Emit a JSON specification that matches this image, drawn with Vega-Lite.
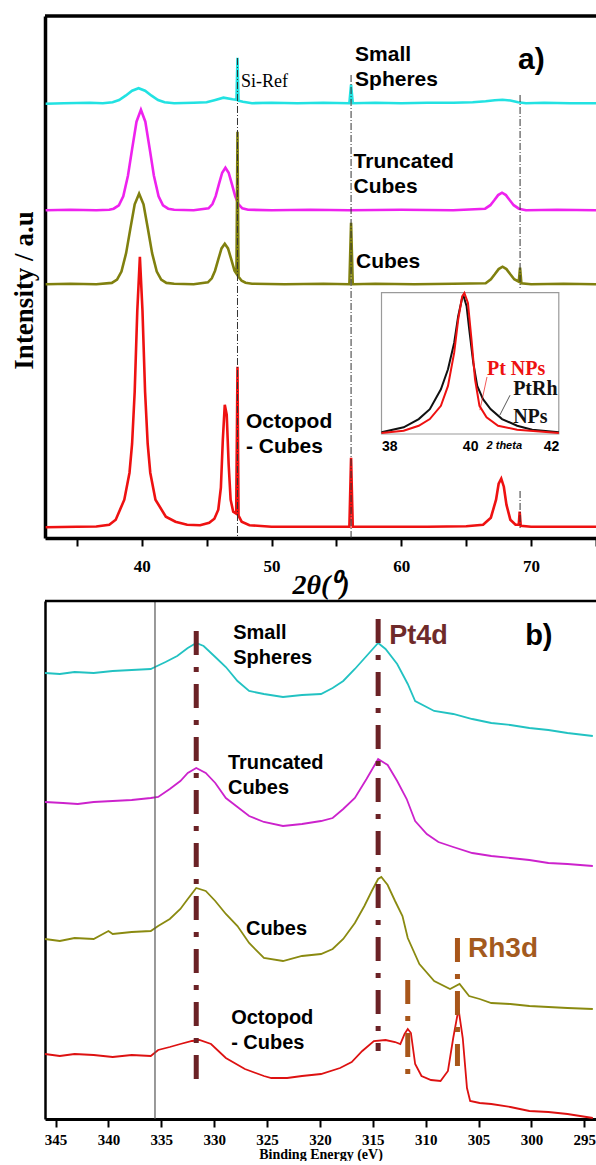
{
"$schema": "https://vega.github.io/schema/vega-lite/v6.json",
"padding": {"left": 10, "top": 14, "right": 0, "bottom": 0},
"spacing": 0,
"config": {"view": {"stroke": null}, "axis": {"grid": false}},
"resolve": {"scale": {"color": "independent"}},
"datasets": {
"xrd": [
{"t":32.6,"i":434.3,"s":"Small Spheres"},{"t":34,"i":434.8,"s":"Small Spheres"},{"t":36,"i":435.3,"s":"Small Spheres"},{"t":37,"i":434.8,"s":"Small Spheres"},{"t":37.76,"i":435.8,"s":"Small Spheres"},{"t":38.26,"i":438,"s":"Small Spheres"},{"t":38.76,"i":442.3,"s":"Small Spheres"},{"t":39.26,"i":447.3,"s":"Small Spheres"},{"t":39.76,"i":449.8,"s":"Small Spheres"},{"t":40.26,"i":447.3,"s":"Small Spheres"},{"t":40.76,"i":442.3,"s":"Small Spheres"},{"t":41.26,"i":438,"s":"Small Spheres"},{"t":41.76,"i":435.8,"s":"Small Spheres"},{"t":42.5,"i":434.8,"s":"Small Spheres"},{"t":44,"i":435.3,"s":"Small Spheres"},{"t":45,"i":435.8,"s":"Small Spheres"},{"t":45.6,"i":437.8,"s":"Small Spheres"},{"t":46.3,"i":440.3,"s":"Small Spheres"},{"t":47,"i":438.8,"s":"Small Spheres"},{"t":47.3,"i":438.3,"s":"Small Spheres"},{"t":47.38,"i":480.3,"s":"Small Spheres"},{"t":47.46,"i":437.3,"s":"Small Spheres"},{"t":47.8,"i":436.3,"s":"Small Spheres"},{"t":48.5,"i":434.8,"s":"Small Spheres"},{"t":50,"i":435.3,"s":"Small Spheres"},{"t":52,"i":434.8,"s":"Small Spheres"},{"t":54,"i":435.3,"s":"Small Spheres"},{"t":56,"i":434.8,"s":"Small Spheres"},{"t":56.13,"i":453.3,"s":"Small Spheres"},{"t":56.26,"i":434.8,"s":"Small Spheres"},{"t":58,"i":435.3,"s":"Small Spheres"},{"t":60,"i":434.8,"s":"Small Spheres"},{"t":62,"i":435.3,"s":"Small Spheres"},{"t":64,"i":435.3,"s":"Small Spheres"},{"t":65.5,"i":435.8,"s":"Small Spheres"},{"t":66.5,"i":436.8,"s":"Small Spheres"},{"t":67.2,"i":437.8,"s":"Small Spheres"},{"t":67.8,"i":438.3,"s":"Small Spheres"},{"t":68.4,"i":437.5,"s":"Small Spheres"},{"t":69,"i":435.8,"s":"Small Spheres"},{"t":69.6,"i":434.8,"s":"Small Spheres"},{"t":71,"i":435.3,"s":"Small Spheres"},{"t":73,"i":434.8,"s":"Small Spheres"},{"t":75,"i":434.8,"s":"Small Spheres"},
{"t":32.6,"i":327.8,"s":"Truncated Cubes"},{"t":34.5,"i":328.3,"s":"Truncated Cubes"},{"t":36.5,"i":327.8,"s":"Truncated Cubes"},{"t":37.5,"i":328.3,"s":"Truncated Cubes"},{"t":37.84,"i":329.3,"s":"Truncated Cubes"},{"t":38.24,"i":332.7,"s":"Truncated Cubes"},{"t":38.58,"i":341.8,"s":"Truncated Cubes"},{"t":38.94,"i":362.3,"s":"Truncated Cubes"},{"t":39.26,"i":388.9,"s":"Truncated Cubes"},{"t":39.6,"i":416.3,"s":"Truncated Cubes"},{"t":39.94,"i":428.3,"s":"Truncated Cubes"},{"t":40.28,"i":416.3,"s":"Truncated Cubes"},{"t":40.62,"i":388.9,"s":"Truncated Cubes"},{"t":40.94,"i":362.3,"s":"Truncated Cubes"},{"t":41.3,"i":341.8,"s":"Truncated Cubes"},{"t":41.64,"i":332.7,"s":"Truncated Cubes"},{"t":42.04,"i":329.3,"s":"Truncated Cubes"},{"t":42.5,"i":328.3,"s":"Truncated Cubes"},{"t":44,"i":327.8,"s":"Truncated Cubes"},{"t":45.15,"i":329.7,"s":"Truncated Cubes"},{"t":45.45,"i":334,"s":"Truncated Cubes"},{"t":45.7,"i":341.8,"s":"Truncated Cubes"},{"t":45.95,"i":353.8,"s":"Truncated Cubes"},{"t":46.2,"i":365.3,"s":"Truncated Cubes"},{"t":46.45,"i":370.3,"s":"Truncated Cubes"},{"t":46.7,"i":365.3,"s":"Truncated Cubes"},{"t":46.95,"i":353.8,"s":"Truncated Cubes"},{"t":47.2,"i":341.8,"s":"Truncated Cubes"},{"t":47.45,"i":334,"s":"Truncated Cubes"},{"t":47.75,"i":329.7,"s":"Truncated Cubes"},{"t":48.2,"i":328.3,"s":"Truncated Cubes"},{"t":50,"i":327.8,"s":"Truncated Cubes"},{"t":53,"i":328.3,"s":"Truncated Cubes"},{"t":56,"i":327.8,"s":"Truncated Cubes"},{"t":60,"i":328.3,"s":"Truncated Cubes"},{"t":64,"i":327.8,"s":"Truncated Cubes"},{"t":66.46,"i":329.3,"s":"Truncated Cubes"},{"t":66.86,"i":332.8,"s":"Truncated Cubes"},{"t":67.16,"i":337.7,"s":"Truncated Cubes"},{"t":67.46,"i":342.9,"s":"Truncated Cubes"},{"t":67.76,"i":345.3,"s":"Truncated Cubes"},{"t":68.06,"i":342.9,"s":"Truncated Cubes"},{"t":68.36,"i":337.7,"s":"Truncated Cubes"},{"t":68.66,"i":332.8,"s":"Truncated Cubes"},{"t":69.06,"i":329.3,"s":"Truncated Cubes"},{"t":69.6,"i":327.8,"s":"Truncated Cubes"},{"t":72,"i":328.3,"s":"Truncated Cubes"},{"t":75,"i":327.8,"s":"Truncated Cubes"},
{"t":32.6,"i":253.8,"s":"Cubes"},{"t":34.5,"i":254.3,"s":"Cubes"},{"t":36.5,"i":253.8,"s":"Cubes"},{"t":37.7,"i":255.1,"s":"Cubes"},{"t":38.1,"i":258.3,"s":"Cubes"},{"t":38.44,"i":266.5,"s":"Cubes"},{"t":38.8,"i":284.9,"s":"Cubes"},{"t":39.12,"i":308.9,"s":"Cubes"},{"t":39.46,"i":333.7,"s":"Cubes"},{"t":39.8,"i":344.3,"s":"Cubes"},{"t":40.14,"i":333.7,"s":"Cubes"},{"t":40.48,"i":308.9,"s":"Cubes"},{"t":40.8,"i":284.9,"s":"Cubes"},{"t":41.16,"i":266.5,"s":"Cubes"},{"t":41.5,"i":258.3,"s":"Cubes"},{"t":41.9,"i":255.1,"s":"Cubes"},{"t":42.5,"i":254.3,"s":"Cubes"},{"t":44,"i":253.8,"s":"Cubes"},{"t":45.1,"i":255.7,"s":"Cubes"},{"t":45.4,"i":259.7,"s":"Cubes"},{"t":45.65,"i":267.3,"s":"Cubes"},{"t":45.9,"i":278.6,"s":"Cubes"},{"t":46.15,"i":289.6,"s":"Cubes"},{"t":46.4,"i":294.3,"s":"Cubes"},{"t":46.65,"i":289.6,"s":"Cubes"},{"t":46.9,"i":278.6,"s":"Cubes"},{"t":47.15,"i":267.3,"s":"Cubes"},{"t":47.3,"i":264.3,"s":"Cubes"},{"t":47.38,"i":406.3,"s":"Cubes"},{"t":47.46,"i":261.3,"s":"Cubes"},{"t":47.7,"i":257.3,"s":"Cubes"},{"t":48,"i":255.3,"s":"Cubes"},{"t":48.5,"i":254.3,"s":"Cubes"},{"t":51,"i":253.8,"s":"Cubes"},{"t":54,"i":254.3,"s":"Cubes"},{"t":56,"i":253.8,"s":"Cubes"},{"t":56.13,"i":315.3,"s":"Cubes"},{"t":56.26,"i":253.8,"s":"Cubes"},{"t":58,"i":254.3,"s":"Cubes"},{"t":61,"i":253.8,"s":"Cubes"},{"t":64,"i":254.3,"s":"Cubes"},{"t":66.5,"i":254.7,"s":"Cubes"},{"t":66.9,"i":258.8,"s":"Cubes"},{"t":67.2,"i":263.7,"s":"Cubes"},{"t":67.5,"i":268.9,"s":"Cubes"},{"t":67.8,"i":271.3,"s":"Cubes"},{"t":68.1,"i":268.9,"s":"Cubes"},{"t":68.4,"i":263.7,"s":"Cubes"},{"t":68.7,"i":258.8,"s":"Cubes"},{"t":69.05,"i":256.3,"s":"Cubes"},{"t":69.15,"i":270.3,"s":"Cubes"},{"t":69.25,"i":254.8,"s":"Cubes"},{"t":70,"i":253.8,"s":"Cubes"},{"t":72.5,"i":254.3,"s":"Cubes"},{"t":75,"i":253.8,"s":"Cubes"},
{"t":32.6,"i":10.8,"s":"Octopod - Cubes"},{"t":35,"i":11.3,"s":"Octopod - Cubes"},{"t":36.5,"i":11.5,"s":"Octopod - Cubes"},{"t":37.5,"i":13.3,"s":"Octopod - Cubes"},{"t":38,"i":18.3,"s":"Octopod - Cubes"},{"t":38.66,"i":38.3,"s":"Octopod - Cubes"},{"t":39.06,"i":65.3,"s":"Octopod - Cubes"},{"t":39.26,"i":94.3,"s":"Octopod - Cubes"},{"t":39.46,"i":146.3,"s":"Octopod - Cubes"},{"t":39.66,"i":227.3,"s":"Octopod - Cubes"},{"t":39.86,"i":281.3,"s":"Octopod - Cubes"},{"t":40.06,"i":227.3,"s":"Octopod - Cubes"},{"t":40.26,"i":146.3,"s":"Octopod - Cubes"},{"t":40.46,"i":94.3,"s":"Octopod - Cubes"},{"t":40.66,"i":65.3,"s":"Octopod - Cubes"},{"t":41.06,"i":38.3,"s":"Octopod - Cubes"},{"t":41.86,"i":21.3,"s":"Octopod - Cubes"},{"t":42.6,"i":16.3,"s":"Octopod - Cubes"},{"t":43.5,"i":13.3,"s":"Octopod - Cubes"},{"t":44.5,"i":12.8,"s":"Octopod - Cubes"},{"t":45.2,"i":15.3,"s":"Octopod - Cubes"},{"t":45.6,"i":19.3,"s":"Octopod - Cubes"},{"t":45.9,"i":28.3,"s":"Octopod - Cubes"},{"t":46.1,"i":50.3,"s":"Octopod - Cubes"},{"t":46.25,"i":98.3,"s":"Octopod - Cubes"},{"t":46.4,"i":133.3,"s":"Octopod - Cubes"},{"t":46.55,"i":123.3,"s":"Octopod - Cubes"},{"t":46.7,"i":73.3,"s":"Octopod - Cubes"},{"t":46.85,"i":38.3,"s":"Octopod - Cubes"},{"t":47.05,"i":26.3,"s":"Octopod - Cubes"},{"t":47.28,"i":24.3,"s":"Octopod - Cubes"},{"t":47.38,"i":171.3,"s":"Octopod - Cubes"},{"t":47.46,"i":22.3,"s":"Octopod - Cubes"},{"t":47.7,"i":16.3,"s":"Octopod - Cubes"},{"t":48.3,"i":12.8,"s":"Octopod - Cubes"},{"t":50,"i":11.3,"s":"Octopod - Cubes"},{"t":53,"i":11.3,"s":"Octopod - Cubes"},{"t":56,"i":11.3,"s":"Octopod - Cubes"},{"t":56.13,"i":80.3,"s":"Octopod - Cubes"},{"t":56.26,"i":11.3,"s":"Octopod - Cubes"},{"t":59,"i":11.3,"s":"Octopod - Cubes"},{"t":62,"i":11.3,"s":"Octopod - Cubes"},{"t":65,"i":11.8,"s":"Octopod - Cubes"},{"t":66.3,"i":13.3,"s":"Octopod - Cubes"},{"t":66.9,"i":20.3,"s":"Octopod - Cubes"},{"t":67.3,"i":38.3,"s":"Octopod - Cubes"},{"t":67.5,"i":54.3,"s":"Octopod - Cubes"},{"t":67.7,"i":59.3,"s":"Octopod - Cubes"},{"t":67.9,"i":51.3,"s":"Octopod - Cubes"},{"t":68.1,"i":33.3,"s":"Octopod - Cubes"},{"t":68.4,"i":18.3,"s":"Octopod - Cubes"},{"t":68.8,"i":13.3,"s":"Octopod - Cubes"},{"t":69.05,"i":13.3,"s":"Octopod - Cubes"},{"t":69.12,"i":26.3,"s":"Octopod - Cubes"},{"t":69.2,"i":12.3,"s":"Octopod - Cubes"},{"t":70,"i":11.3,"s":"Octopod - Cubes"},{"t":72.5,"i":11.3,"s":"Octopod - Cubes"},{"t":75,"i":11.3,"s":"Octopod - Cubes"}
],
"inset": [
{"t":38.0,"j":1.7,"s":"PtRh NPs"},{"t":38.5,"j":6.7,"s":"PtRh NPs"},{"t":38.84,"j":15,"s":"PtRh NPs"},{"t":39.09,"j":25,"s":"PtRh NPs"},{"t":39.34,"j":45,"s":"PtRh NPs"},{"t":39.5,"j":65,"s":"PtRh NPs"},{"t":39.64,"j":91.7,"s":"PtRh NPs"},{"t":39.73,"j":118.3,"s":"PtRh NPs"},{"t":39.82,"j":136.7,"s":"PtRh NPs"},{"t":39.85,"j":139,"s":"PtRh NPs"},{"t":39.92,"j":128.3,"s":"PtRh NPs"},{"t":39.98,"j":105,"s":"PtRh NPs"},{"t":40.07,"j":71.7,"s":"PtRh NPs"},{"t":40.16,"j":48.3,"s":"PtRh NPs"},{"t":40.29,"j":35,"s":"PtRh NPs"},{"t":40.46,"j":25,"s":"PtRh NPs"},{"t":40.72,"j":15,"s":"PtRh NPs"},{"t":41.06,"j":8.3,"s":"PtRh NPs"},{"t":41.4,"j":4.3,"s":"PtRh NPs"},{"t":42.0,"j":1.7,"s":"PtRh NPs"},
{"t":38.0,"j":1,"s":"Pt NPs"},{"t":38.5,"j":3.3,"s":"Pt NPs"},{"t":38.84,"j":8.3,"s":"Pt NPs"},{"t":39.09,"j":15,"s":"Pt NPs"},{"t":39.34,"j":28.3,"s":"Pt NPs"},{"t":39.5,"j":48.3,"s":"Pt NPs"},{"t":39.64,"j":81.7,"s":"Pt NPs"},{"t":39.73,"j":115,"s":"Pt NPs"},{"t":39.82,"j":138.3,"s":"Pt NPs"},{"t":39.87,"j":141.7,"s":"Pt NPs"},{"t":39.95,"j":131.7,"s":"Pt NPs"},{"t":40.03,"j":95,"s":"Pt NPs"},{"t":40.11,"j":55,"s":"Pt NPs"},{"t":40.21,"j":28.3,"s":"Pt NPs"},{"t":40.37,"j":16.7,"s":"Pt NPs"},{"t":40.63,"j":8.3,"s":"Pt NPs"},{"t":41.06,"j":4.3,"s":"Pt NPs"},{"t":42.0,"j":1,"s":"Pt NPs"}
],
"xps": [
{"be":346.0,"i":446,"s":"Small Spheres"},{"be":344.6,"i":445,"s":"Small Spheres"},{"be":343.2,"i":447,"s":"Small Spheres"},{"be":341.4,"i":446,"s":"Small Spheres"},{"be":339.6,"i":448,"s":"Small Spheres"},{"be":337.8,"i":449,"s":"Small Spheres"},{"be":336.0,"i":450,"s":"Small Spheres"},{"be":335.6,"i":452,"s":"Small Spheres"},{"be":334.6,"i":457,"s":"Small Spheres"},{"be":333.5,"i":463,"s":"Small Spheres"},{"be":332.5,"i":471,"s":"Small Spheres"},{"be":331.7,"i":476,"s":"Small Spheres"},{"be":331.0,"i":473,"s":"Small Spheres"},{"be":329.9,"i":462,"s":"Small Spheres"},{"be":328.9,"i":452,"s":"Small Spheres"},{"be":327.8,"i":438,"s":"Small Spheres"},{"be":326.7,"i":428,"s":"Small Spheres"},{"be":325.3,"i":425,"s":"Small Spheres"},{"be":323.5,"i":422,"s":"Small Spheres"},{"be":321.7,"i":424,"s":"Small Spheres"},{"be":319.9,"i":425,"s":"Small Spheres"},{"be":318.8,"i":431,"s":"Small Spheres"},{"be":317.8,"i":438,"s":"Small Spheres"},{"be":316.7,"i":450,"s":"Small Spheres"},{"be":315.6,"i":463,"s":"Small Spheres"},{"be":314.5,"i":476,"s":"Small Spheres"},{"be":313.8,"i":470,"s":"Small Spheres"},{"be":312.7,"i":455,"s":"Small Spheres"},{"be":311.7,"i":435,"s":"Small Spheres"},{"be":311.0,"i":418,"s":"Small Spheres"},{"be":309.2,"i":408,"s":"Small Spheres"},{"be":307.4,"i":405,"s":"Small Spheres"},{"be":305.6,"i":400,"s":"Small Spheres"},{"be":303.8,"i":396,"s":"Small Spheres"},{"be":302.0,"i":394,"s":"Small Spheres"},{"be":300.2,"i":391,"s":"Small Spheres"},{"be":298.4,"i":389,"s":"Small Spheres"},{"be":296.6,"i":386,"s":"Small Spheres"},{"be":294.2,"i":383,"s":"Small Spheres"},
{"be":346.0,"i":317,"s":"Truncated Cubes"},{"be":344.3,"i":316,"s":"Truncated Cubes"},{"be":342.9,"i":315,"s":"Truncated Cubes"},{"be":341.4,"i":317,"s":"Truncated Cubes"},{"be":339.6,"i":318,"s":"Truncated Cubes"},{"be":337.8,"i":319,"s":"Truncated Cubes"},{"be":336.0,"i":321,"s":"Truncated Cubes"},{"be":335.3,"i":322,"s":"Truncated Cubes"},{"be":334.2,"i":330,"s":"Truncated Cubes"},{"be":333.2,"i":338,"s":"Truncated Cubes"},{"be":332.5,"i":346,"s":"Truncated Cubes"},{"be":331.7,"i":351,"s":"Truncated Cubes"},{"be":330.8,"i":346,"s":"Truncated Cubes"},{"be":329.9,"i":336,"s":"Truncated Cubes"},{"be":328.9,"i":321,"s":"Truncated Cubes"},{"be":327.8,"i":312,"s":"Truncated Cubes"},{"be":326.7,"i":303,"s":"Truncated Cubes"},{"be":325.3,"i":297,"s":"Truncated Cubes"},{"be":323.5,"i":293,"s":"Truncated Cubes"},{"be":321.7,"i":295,"s":"Truncated Cubes"},{"be":319.9,"i":298,"s":"Truncated Cubes"},{"be":318.8,"i":301,"s":"Truncated Cubes"},{"be":317.8,"i":310,"s":"Truncated Cubes"},{"be":316.7,"i":321,"s":"Truncated Cubes"},{"be":315.6,"i":340,"s":"Truncated Cubes"},{"be":314.5,"i":360,"s":"Truncated Cubes"},{"be":313.6,"i":354,"s":"Truncated Cubes"},{"be":312.7,"i":338,"s":"Truncated Cubes"},{"be":311.8,"i":320,"s":"Truncated Cubes"},{"be":311.0,"i":298,"s":"Truncated Cubes"},{"be":309.9,"i":285,"s":"Truncated Cubes"},{"be":308.8,"i":277,"s":"Truncated Cubes"},{"be":307.4,"i":272,"s":"Truncated Cubes"},{"be":305.6,"i":266,"s":"Truncated Cubes"},{"be":303.8,"i":263,"s":"Truncated Cubes"},{"be":302.0,"i":261,"s":"Truncated Cubes"},{"be":300.2,"i":259,"s":"Truncated Cubes"},{"be":298.4,"i":256,"s":"Truncated Cubes"},{"be":296.6,"i":255,"s":"Truncated Cubes"},{"be":294.2,"i":253,"s":"Truncated Cubes"},
{"be":346.0,"i":180,"s":"Cubes"},{"be":344.6,"i":178,"s":"Cubes"},{"be":343.2,"i":181,"s":"Cubes"},{"be":341.4,"i":180,"s":"Cubes"},{"be":340.0,"i":188,"s":"Cubes"},{"be":339.6,"i":185,"s":"Cubes"},{"be":337.8,"i":187,"s":"Cubes"},{"be":336.0,"i":188,"s":"Cubes"},{"be":335.3,"i":193,"s":"Cubes"},{"be":334.2,"i":200,"s":"Cubes"},{"be":333.2,"i":210,"s":"Cubes"},{"be":332.5,"i":220,"s":"Cubes"},{"be":331.7,"i":231,"s":"Cubes"},{"be":330.8,"i":228,"s":"Cubes"},{"be":329.9,"i":218,"s":"Cubes"},{"be":328.9,"i":205,"s":"Cubes"},{"be":327.8,"i":193,"s":"Cubes"},{"be":326.7,"i":176,"s":"Cubes"},{"be":325.3,"i":161,"s":"Cubes"},{"be":323.5,"i":158,"s":"Cubes"},{"be":321.7,"i":163,"s":"Cubes"},{"be":319.9,"i":165,"s":"Cubes"},{"be":318.8,"i":170,"s":"Cubes"},{"be":317.8,"i":180,"s":"Cubes"},{"be":316.7,"i":196,"s":"Cubes"},{"be":315.8,"i":213,"s":"Cubes"},{"be":315.1,"i":228,"s":"Cubes"},{"be":314.5,"i":240,"s":"Cubes"},{"be":314.2,"i":242,"s":"Cubes"},{"be":313.6,"i":234,"s":"Cubes"},{"be":312.9,"i":218,"s":"Cubes"},{"be":312.2,"i":203,"s":"Cubes"},{"be":311.7,"i":181,"s":"Cubes"},{"be":310.6,"i":155,"s":"Cubes"},{"be":309.2,"i":138,"s":"Cubes"},{"be":307.7,"i":130,"s":"Cubes"},{"be":306.8,"i":135,"s":"Cubes"},{"be":305.9,"i":123,"s":"Cubes"},{"be":304.9,"i":120,"s":"Cubes"},{"be":303.8,"i":116,"s":"Cubes"},{"be":302.0,"i":115,"s":"Cubes"},{"be":300.2,"i":113,"s":"Cubes"},{"be":298.4,"i":112,"s":"Cubes"},{"be":296.6,"i":111,"s":"Cubes"},{"be":294.2,"i":110,"s":"Cubes"},
{"be":346.0,"i":65,"s":"Octopod - Cubes"},{"be":344.6,"i":63,"s":"Octopod - Cubes"},{"be":343.2,"i":65,"s":"Octopod - Cubes"},{"be":341.4,"i":64,"s":"Octopod - Cubes"},{"be":339.6,"i":62,"s":"Octopod - Cubes"},{"be":337.8,"i":64,"s":"Octopod - Cubes"},{"be":336.0,"i":63,"s":"Octopod - Cubes"},{"be":335.3,"i":69,"s":"Octopod - Cubes"},{"be":334.2,"i":72,"s":"Octopod - Cubes"},{"be":333.2,"i":75,"s":"Octopod - Cubes"},{"be":332.1,"i":78,"s":"Octopod - Cubes"},{"be":331.4,"i":79,"s":"Octopod - Cubes"},{"be":330.3,"i":75,"s":"Octopod - Cubes"},{"be":328.9,"i":61,"s":"Octopod - Cubes"},{"be":327.1,"i":50,"s":"Octopod - Cubes"},{"be":325.3,"i":43,"s":"Octopod - Cubes"},{"be":324.6,"i":41,"s":"Octopod - Cubes"},{"be":323.1,"i":41,"s":"Octopod - Cubes"},{"be":321.7,"i":43,"s":"Octopod - Cubes"},{"be":319.9,"i":45,"s":"Octopod - Cubes"},{"be":318.1,"i":51,"s":"Octopod - Cubes"},{"be":317.0,"i":57,"s":"Octopod - Cubes"},{"be":316.0,"i":68,"s":"Octopod - Cubes"},{"be":314.9,"i":78,"s":"Octopod - Cubes"},{"be":313.8,"i":79,"s":"Octopod - Cubes"},{"be":312.9,"i":77,"s":"Octopod - Cubes"},{"be":312.4,"i":75,"s":"Octopod - Cubes"},{"be":312.0,"i":85,"s":"Octopod - Cubes"},{"be":311.7,"i":90,"s":"Octopod - Cubes"},{"be":311.4,"i":86,"s":"Octopod - Cubes"},{"be":311.0,"i":55,"s":"Octopod - Cubes"},{"be":310.4,"i":43,"s":"Octopod - Cubes"},{"be":309.5,"i":39,"s":"Octopod - Cubes"},{"be":308.6,"i":38,"s":"Octopod - Cubes"},{"be":307.9,"i":48,"s":"Octopod - Cubes"},{"be":307.4,"i":81,"s":"Octopod - Cubes"},{"be":306.9,"i":110,"s":"Octopod - Cubes"},{"be":306.5,"i":81,"s":"Octopod - Cubes"},{"be":306.1,"i":31,"s":"Octopod - Cubes"},{"be":305.8,"i":18,"s":"Octopod - Cubes"},{"be":304.9,"i":16,"s":"Octopod - Cubes"},{"be":303.8,"i":15,"s":"Octopod - Cubes"},{"be":302.0,"i":12,"s":"Octopod - Cubes"},{"be":300.2,"i":8,"s":"Octopod - Cubes"},{"be":298.4,"i":7,"s":"Octopod - Cubes"},{"be":296.6,"i":5,"s":"Octopod - Cubes"},{"be":294.2,"i":1,"s":"Octopod - Cubes"}
]
},
"vconcat": [
{
"width": 551, "height": 522,
"resolve": {"scale": {"x": "independent", "y": "independent", "color": "independent"}},
"layer": [
{
"layer": [
{"data": {"name": "xrd"}, "mark": {"type": "line", "strokeWidth": 2.6},
 "encoding": {
  "x": {"field": "t", "type": "quantitative", "scale": {"domain": [32.55, 75], "zero": false, "nice": false},
   "axis": {"values": [35,40,45,50,55,60,65,70,75], "labelExpr": "datum.value % 10 === 0 ? datum.label : ''", "tickSize": 8, "tickWidth": 2, "tickColor": "black", "domainColor": "black", "domainWidth": 3.5, "labelFont": "Liberation Serif", "labelFontWeight": "bold", "labelFontSize": 17, "labelColor": "black", "labelPadding": 12, "title": "2θ(⁰)", "titleFont": "Liberation Serif", "titleFontStyle": "italic", "titleFontWeight": "bold", "titleFontSize": 28, "titleColor": "black", "titlePadding": -3}},
  "y": {"field": "i", "type": "quantitative", "scale": {"domain": [0, 522], "nice": false},
   "axis": {"title": "Intensity / a.u", "labels": false, "ticks": false, "domainColor": "black", "domainWidth": 3.5, "titleFont": "Liberation Serif", "titleFontWeight": "bold", "titleFontSize": 27, "titleColor": "black", "titlePadding": 7, "titleY": 274}},
  "color": {"field": "s", "type": "nominal", "scale": {"domain": ["Small Spheres", "Truncated Cubes", "Cubes", "Octopod - Cubes"], "range": ["#22e2e2", "#ee22ee", "#80800f", "#ee1111"]}, "legend": null}
 }},
{"data": {"values": [{"t": 47.38, "i": 480, "bot": 0}, {"t": 56.13, "i": 463, "bot": 0}, {"t": 69.15, "i": 443, "bot": 250}, {"t": 69.15, "i": 47, "bot": 10}]},
 "mark": {"type": "rule", "color": "#333", "strokeWidth": 1, "strokeDash": [7, 2, 1, 2]},
 "encoding": {"x": {"field": "t", "type": "quantitative"}, "y": {"field": "i", "type": "quantitative"}, "y2": {"field": "bot"}}},
{"data": {"values": [{"i": 522}]}, "mark": {"type": "rule", "color": "black", "strokeWidth": 3.5}, "encoding": {"y": {"field": "i", "type": "quantitative"}}},
{"data": {"values": [{"t": 47.65, "i": 456, "txt": "Si-Ref"}]},
 "mark": {"type": "text", "font": "Liberation Serif", "fontSize": 18, "align": "left", "baseline": "middle", "color": "black"},
 "encoding": {"x": {"field": "t", "type": "quantitative"}, "y": {"field": "i", "type": "quantitative"}, "text": {"field": "txt"}}},
{"data": {"values": [{"t": 56.44, "i": 483.3, "txt": "Small"}, {"t": 56.44, "i": 458.3, "txt": "Spheres"}, {"t": 56.32, "i": 376.3, "txt": "Truncated"}, {"t": 56.32, "i": 351.3, "txt": "Cubes"}, {"t": 56.51, "i": 276.3, "txt": "Cubes"}, {"t": 48.03, "i": 116.3, "txt": "Octopod"}, {"t": 48.03, "i": 91.3, "txt": "- Cubes"}]},
 "mark": {"type": "text", "font": "Liberation Sans", "fontWeight": "bold", "fontSize": 21, "align": "left", "baseline": "middle", "color": "black"},
 "encoding": {"x": {"field": "t", "type": "quantitative"}, "y": {"field": "i", "type": "quantitative"}, "text": {"field": "txt"}}},
{"data": {"values": [{"t": 69.0, "i": 478.3, "txt": "a)"}]},
 "mark": {"type": "text", "font": "Liberation Sans", "fontWeight": "bold", "fontSize": 30, "align": "left", "baseline": "middle", "color": "black"},
 "encoding": {"x": {"field": "t", "type": "quantitative"}, "y": {"field": "i", "type": "quantitative"}, "text": {"field": "txt"}}}
]
},
{
"layer": [
{"data": {"values": [{"t": 38, "x2": 42, "j": 0, "y2": 142}]}, "mark": {"type": "rect", "fill": "white", "stroke": "#9a9a9a", "strokeWidth": 1.2},
 "encoding": {"x": {"field": "t", "type": "quantitative"}, "x2": {"field": "x2"}, "y": {"field": "j", "type": "quantitative", "axis": null}, "y2": {"field": "y2"}}},
{"data": {"name": "inset"}, "mark": {"type": "line", "strokeWidth": 2},
 "encoding": {
  "x": {"field": "t", "type": "quantitative", "scale": {"domain": [38, 42], "range": [336.5, 513.8], "zero": false, "nice": false},
   "axis": {"orient": "bottom", "offset": -104, "values": [38, 40, 42], "format": "d", "ticks": false, "domain": false, "labelFont": "Liberation Sans", "labelFontWeight": "bold", "labelFontSize": 14, "labelColor": "black", "labelPadding": 5, "title": null}},
  "y": {"field": "j", "type": "quantitative", "scale": {"domain": [0, 142], "range": [418, 276.7], "nice": false}, "axis": null},
  "color": {"field": "s", "type": "nominal", "scale": {"domain": ["PtRh NPs", "Pt NPs"], "range": ["#111111", "#ee1111"]}, "legend": null}
 }},
{"data": {"values": [{"t": 40.38, "j": 57.3, "x2": 40.22, "y2": 24, "s": "Pt NPs"}, {"t": 40.9, "j": 39, "x2": 40.67, "y2": 19, "s": "PtRh NPs"}]},
 "mark": {"type": "rule", "strokeWidth": 0.7},
 "encoding": {"x": {"field": "t", "type": "quantitative"}, "x2": {"field": "x2"}, "y": {"field": "j", "type": "quantitative", "axis": null}, "y2": {"field": "y2"}, "color": {"field": "s", "type": "nominal", "legend": null}}},
{"data": {"values": [{"t": 40.38, "j": 65.7, "txt": "Pt NPs", "s": "Pt NPs"}, {"t": 40.97, "j": 45.7, "txt": "PtRh", "s": "PtRh NPs"}, {"t": 40.97, "j": 17.3, "txt": "NPs", "s": "PtRh NPs"}]},
 "mark": {"type": "text", "font": "Liberation Serif", "fontWeight": "bold", "fontSize": 20, "align": "left", "baseline": "middle"},
 "encoding": {"x": {"field": "t", "type": "quantitative"}, "y": {"field": "j", "type": "quantitative", "axis": null}, "text": {"field": "txt"}, "color": {"field": "s", "type": "nominal", "legend": null}}},
{"data": {"values": [{"t": 40.77, "j": -12, "txt": "2 theta"}]},
 "mark": {"type": "text", "font": "Liberation Sans", "fontWeight": "bold", "fontStyle": "italic", "fontSize": 11, "align": "center", "baseline": "middle", "color": "black"},
 "encoding": {"x": {"field": "t", "type": "quantitative"}, "y": {"field": "j", "type": "quantitative", "axis": null}, "text": {"field": "txt"}}}
]
}
]
},
{
"width": 551, "height": 518,
"layer": [
{"data": {"name": "xps"}, "mark": {"type": "line", "strokeWidth": 1.8},
 "encoding": {
  "x": {"field": "be", "type": "quantitative", "scale": {"domain": [293.9, 346], "reverse": true, "zero": false, "nice": false},
   "axis": {"values": [295,300,305,310,315,320,325,330,335,340,345], "tickSize": 8, "tickWidth": 2, "tickColor": "black", "domainColor": "black", "domainWidth": 3, "labelFont": "Liberation Serif", "labelFontWeight": "bold", "labelFontSize": 15, "labelColor": "black", "labelPadding": 5, "title": "Binding Energy (eV)", "titleFont": "Liberation Serif", "titleFontWeight": "bold", "titleFontSize": 14, "titleColor": "black", "titlePadding": 0}},
  "y": {"field": "i", "type": "quantitative", "scale": {"domain": [0, 518], "nice": false},
   "axis": {"title": null, "labels": false, "ticks": false, "domainColor": "black", "domainWidth": 2.5}},
  "color": {"field": "s", "type": "nominal", "scale": {"domain": ["Small Spheres", "Truncated Cubes", "Cubes", "Octopod - Cubes"], "range": ["#22c2c2", "#cc22cc", "#8a8a10", "#dd1111"]}, "legend": null}
 }},
{"data": {"values": [{"be": 335.6, "i": 518, "bot": 0}]}, "mark": {"type": "rule", "color": "#555", "strokeWidth": 1.2}, "encoding": {"x": {"field": "be", "type": "quantitative"}, "y": {"field": "i", "type": "quantitative"}, "y2": {"field": "bot"}}},
{"data": {"values": [{"be": 331.7, "i": 488, "bot": 40}, {"be": 314.5, "i": 500, "bot": 68}]},
 "mark": {"type": "rule", "color": "#6b2226", "strokeWidth": 5, "strokeDash": [24, 12, 5, 12]},
 "encoding": {"x": {"field": "be", "type": "quantitative"}, "y": {"field": "i", "type": "quantitative"}, "y2": {"field": "bot"}}},
{"data": {"values": [{"be": 311.7, "i": 139, "bot": 40}, {"be": 307.0, "i": 181, "bot": 53}]},
 "mark": {"type": "rule", "color": "#a8561a", "strokeWidth": 5, "strokeDash": [24, 12, 5, 12]},
 "encoding": {"x": {"field": "be", "type": "quantitative"}, "y": {"field": "i", "type": "quantitative"}, "y2": {"field": "bot"}}},
{"data": {"values": [{"i": 518}]}, "mark": {"type": "rule", "color": "black", "strokeWidth": 2.5}, "encoding": {"y": {"field": "i", "type": "quantitative"}}},
{"data": {"values": [{"be": 328.2, "i": 486, "txt": "Small"}, {"be": 328.2, "i": 461, "txt": "Spheres"}, {"be": 328.7, "i": 356.3, "txt": "Truncated"}, {"be": 328.7, "i": 331.3, "txt": "Cubes"}, {"be": 327.0, "i": 190, "txt": "Cubes"}, {"be": 328.4, "i": 101.3, "txt": "Octopod"}, {"be": 328.4, "i": 76, "txt": "- Cubes"}]},
 "mark": {"type": "text", "font": "Liberation Sans", "fontWeight": "bold", "fontSize": 20, "align": "left", "baseline": "middle", "color": "black"},
 "encoding": {"x": {"field": "be", "type": "quantitative"}, "y": {"field": "i", "type": "quantitative"}, "text": {"field": "txt"}}},
{"data": {"values": [{"be": 313.46, "i": 483, "txt": "Pt4d"}]},
 "mark": {"type": "text", "font": "Liberation Sans", "fontWeight": "bold", "fontSize": 27, "align": "left", "baseline": "middle", "color": "#6e2a2a"},
 "encoding": {"x": {"field": "be", "type": "quantitative"}, "y": {"field": "i", "type": "quantitative"}, "text": {"field": "txt"}}},
{"data": {"values": [{"be": 306.0, "i": 170, "txt": "Rh3d"}]},
 "mark": {"type": "text", "font": "Liberation Sans", "fontWeight": "bold", "fontSize": 28, "align": "left", "baseline": "middle", "color": "#a35a1e"},
 "encoding": {"x": {"field": "be", "type": "quantitative"}, "y": {"field": "i", "type": "quantitative"}, "text": {"field": "txt"}}},
{"data": {"values": [{"be": 300.6, "i": 483, "txt": "b)"}]},
 "mark": {"type": "text", "font": "Liberation Sans", "fontWeight": "bold", "fontSize": 29, "align": "left", "baseline": "middle", "color": "black"},
 "encoding": {"x": {"field": "be", "type": "quantitative"}, "y": {"field": "i", "type": "quantitative"}, "text": {"field": "txt"}}}
]
}
]
}
